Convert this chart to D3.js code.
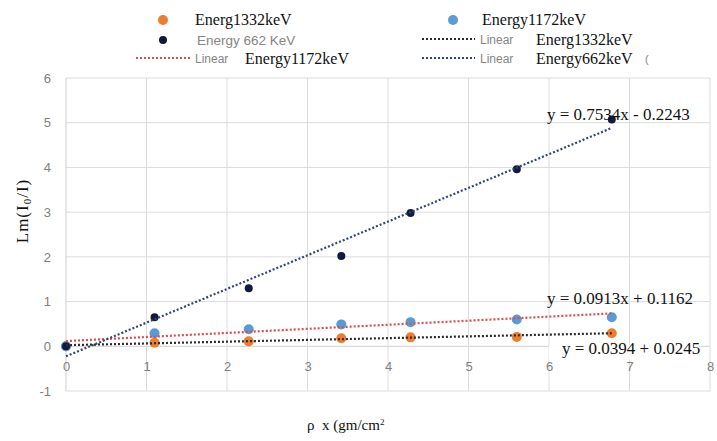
<!DOCTYPE html>
<html>
<head>
<meta charset="utf-8">
<script src="https://cdn.jsdelivr.net/npm/d3@7"></script>
<style>
  body { margin: 0; background: #fff; }
  svg { display: block; }
  .tick text { font-family: "Liberation Sans", Arial, sans-serif; font-size: 13px; fill: #808080; }
  .serif { font-family: "Liberation Serif", "Times New Roman", serif; fill: #111; }
  .sans { font-family: "Liberation Sans", Arial, sans-serif; fill: #858585; }
</style>
</head>
<body>
<div id="chart"></div>
<script>
// thickness (rho x) and ln(I0/I) for each energy
const thickness  = [0, 1.1, 2.27, 3.42, 4.28, 5.6, 6.78];
const energy662  = [0, 0.65, 1.3, 2.02, 2.98, 3.96, 5.07];
const energy1172 = [0, 0.29, 0.38, 0.49, 0.54, 0.6, 0.65];
const energy1332 = [0, 0.08, 0.11, 0.18, 0.2, 0.21, 0.29];

// linear trendlines: [slope, intercept]
const fit662  = [0.7534, -0.2243];
const fit1172 = [0.0913, 0.1162];
const fit1332 = [0.0394, 0.0245];

const xTicks = [0, 1, 2, 3, 4, 5, 6, 7, 8];
const yTicks = [-1, 0, 1, 2, 3, 4, 5, 6];

const width = 717, height = 441;
const svg = d3.select("#chart").append("svg")
  .attr("width", width)
  .attr("height", height);

svg.append("rect").attr("width", width).attr("height", height).attr("fill", "#fff");

var x = d3.scaleLinear().domain([0, 8]).range([66, 710]);
var y = d3.scaleLinear().domain([-1, 6]).range([391, 78]);

// gridlines
svg.append("g")
  .selectAll("line.h")
  .data(yTicks).enter()
  .append("line")
  .attr("x1", x(0)).attr("x2", x(8))
  .attr("y1", d => y(d)).attr("y2", d => y(d))
  .attr("stroke", d => d === 0 ? "#cfcfcf" : "#dcdcdc")
  .attr("stroke-width", 1);

svg.append("g")
  .selectAll("line.v")
  .data(xTicks).enter()
  .append("line")
  .attr("x1", d => x(d)).attr("x2", d => x(d))
  .attr("y1", y(-1)).attr("y2", y(6))
  .attr("stroke", d => d === 0 ? "#cfcfcf" : "#dcdcdc")
  .attr("stroke-width", 1);

// axes (labels only)
var yAxis = d3.axisLeft(y).tickValues(yTicks).tickSize(0).tickPadding(0)
  .tickFormat(d => String(d));
svg.append("g")
  .attr("transform", "translate(51,0)")
  .call(yAxis)
  .call(g => g.select(".domain").remove());

var xAxis = d3.axisBottom(x).tickValues(xTicks).tickSize(0).tickPadding(0)
  .tickFormat(d => String(d));
svg.append("g")
  .attr("transform", `translate(0, ${y(0) + 15})`)
  .call(xAxis)
  .call(g => g.select(".domain").remove());

// markers
function points(vals, color, r) {
  svg.append("g")
    .selectAll("circle")
    .data(thickness.map((t, i) => [t, vals[i]])).enter()
    .append("circle")
    .attr("cx", d => x(d[0]))
    .attr("cy", d => y(d[1]))
    .attr("r", r)
    .attr("fill", color);
}
points(energy1332, "#ed7d31", 5);
points(energy1172, "#5b9bd5", 5);
points(energy662, "#111a3e", 4);

// trendlines
var line = d3.line().x(d => x(d[0])).y(d => y(d[1]));
function trend(fit, color) {
  var x0 = d3.min(thickness), x1 = d3.max(thickness);
  svg.append("path")
    .attr("d", line([[x0, fit[0] * x0 + fit[1]], [x1, fit[0] * x1 + fit[1]]]))
    .attr("fill", "none")
    .attr("stroke", color)
    .attr("stroke-width", 2.2)
    .attr("stroke-dasharray", "2 2");
}
trend(fit1332, "#2b2b2b");
trend(fit1172, "#e24a4f");
trend(fit662, "#33466e");

// equation labels
svg.append("text").attr("class", "serif")
  .attr("x", x(6) - 2).attr("y", y(fit662[0] * 6.78 + fit662[1]) - 8)
  .style("font-size", "17px")
  .text("y = 0.7534x - 0.2243");

svg.append("text").attr("class", "serif")
  .attr("x", x(6) - 2).attr("y", y(0.94))
  .style("font-size", "17px")
  .text("y = 0.0913x + 0.1162");

svg.append("rect")
  .attr("x", x(6)).attr("y", y(0) - 1)
  .attr("width", 150).attr("height", 14).attr("fill", "#fff");
svg.append("text").attr("class", "serif")
  .attr("x", x(6) + 13).attr("y", y(0) + 8)
  .style("font-size", "17px")
  .text("y = 0.0394 + 0.0245");

// axis titles
svg.append("text").attr("class", "serif")
  .attr("transform", "translate(28,211) rotate(-90)")
  .attr("text-anchor", "middle")
  .style("font-size", "17px")
  .style("letter-spacing", "1px")
  .html('Lm(I<tspan dy="3" font-size="11px">0</tspan><tspan dy="-3">/I)</tspan>');

svg.append("text").attr("class", "serif")
  .attr("x", 307).attr("y", 430)
  .style("font-size", "15px")
  .style("white-space", "pre")
  .html('ρ  x (gm/cm<tspan dy="-5" font-size="9px">2</tspan>');

// legend
var leg = svg.append("g");
leg.append("circle").attr("cx", 163).attr("cy", 20).attr("r", 5).attr("fill", "#ed7d31");
leg.append("text").attr("class", "serif").attr("x", 195).attr("y", 25)
  .style("font-size", "16px").text("Energ1332keV");

leg.append("circle").attr("cx", 453).attr("cy", 20).attr("r", 5).attr("fill", "#5b9bd5");
leg.append("text").attr("class", "serif").attr("x", 482).attr("y", 25)
  .style("font-size", "16px").text("Energy1172keV");

leg.append("circle").attr("cx", 163).attr("cy", 40).attr("r", 4).attr("fill", "#111a3e");
leg.append("text").attr("class", "sans").attr("x", 197).attr("y", 45)
  .style("font-size", "13.5px").text("Energy 662 KeV");

function legLine(x1, x2, yy, color) {
  leg.append("line").attr("x1", x1).attr("x2", x2).attr("y1", yy).attr("y2", yy)
    .attr("stroke", color).attr("stroke-width", 2).attr("stroke-dasharray", "2 2");
}
legLine(422, 475, 39, "#2b2b2b");
leg.append("text").attr("class", "sans").attr("x", 480).attr("y", 44)
  .style("font-size", "12px").text("Linear");
leg.append("text").attr("class", "serif").attr("x", 536).attr("y", 45)
  .style("font-size", "16px").text("Energ1332keV");

legLine(136, 191, 58, "#e24a4f");
leg.append("text").attr("class", "sans").attr("x", 195).attr("y", 63)
  .style("font-size", "12px").text("Linear");
leg.append("text").attr("class", "serif").attr("x", 245).attr("y", 64)
  .style("font-size", "16px").text("Energy1172keV");

legLine(422, 475, 58, "#33466e");
leg.append("text").attr("class", "sans").attr("x", 480).attr("y", 63)
  .style("font-size", "12px").text("Linear");
leg.append("text").attr("class", "serif").attr("x", 536).attr("y", 64)
  .style("font-size", "16px").text("Energy662keV");
leg.append("text").attr("class", "sans").attr("x", 645).attr("y", 63)
  .style("font-size", "11px").text("(");
</script>
</body>
</html>
